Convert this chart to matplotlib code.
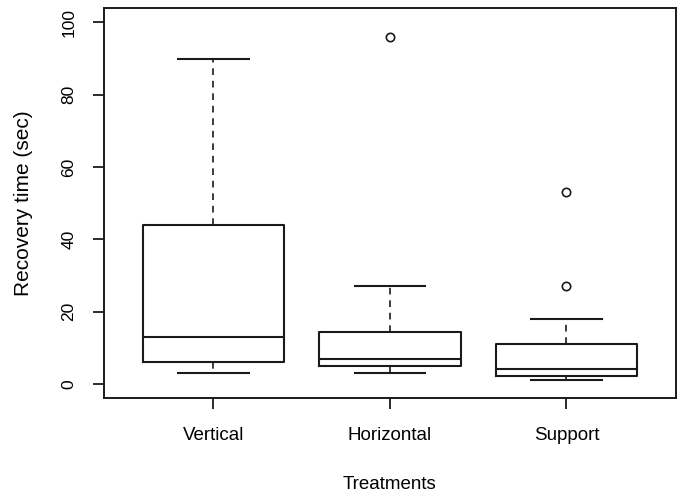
import matplotlib.pyplot as plt

plt.rcParams['font.family'] = ['Liberation Sans', 'DejaVu Sans']

treatments = ['Vertical', 'Horizontal', 'Support']
whisker_low = [3, 3, 1]
q1 = [6, 5, 2.1]
median = [13, 7, 4]
q3 = [44, 14.4, 11]
whisker_high = [90, 27, 18]
outliers = [[], [96], [53, 27]]

stats = []
for i, name in enumerate(treatments):
    stats.append({
        'label': name,
        'whislo': whisker_low[i],
        'q1': q1[i],
        'med': median[i],
        'q3': q3[i],
        'whishi': whisker_high[i],
        'fliers': outliers[i],
    })

fig, ax = plt.subplots(figsize=(6.8, 4.96), dpi=100)
fig.subplots_adjust(left=0.153, right=0.994, top=0.984, bottom=0.197)

ink = '#1a1a1a'
ax.bxp(stats, positions=[1, 2, 3], widths=0.8, showfliers=True,
       boxprops=dict(color=ink, linewidth=1.5),
       medianprops=dict(color=ink, linewidth=1.5),
       whiskerprops=dict(color=ink, linewidth=1.2, linestyle=(0, (4, 3.5))),
       capprops=dict(color=ink, linewidth=1.5),
       flierprops=dict(marker='o', markersize=6, markerfacecolor='none',
                       markeredgecolor=ink, markeredgewidth=1.2),
       capwidths=0.4)

ax.set_xlim(0.38, 3.62)
ax.set_ylim(-4, 104)
ax.set_yticks([0, 20, 40, 60, 80, 100])
ax.set_xticks([1, 2, 3])
ax.set_xticklabels(treatments)

for s in ax.spines.values():
    s.set_color(ink)
    s.set_linewidth(1.4)

ax.tick_params(axis='y', labelrotation=90, length=8, width=1.3, color=ink,
               labelsize=12.5, pad=12)
for lab in ax.get_yticklabels():
    lab.set_va('center')
ax.tick_params(axis='x', length=8, width=1.3, color=ink, labelsize=13.5, pad=13)

ax.set_ylabel('Recovery time (sec)', fontsize=15)
ax.set_xlabel('Treatments', fontsize=13.5)
ax.yaxis.set_label_coords(-0.124, 0.5)
ax.xaxis.set_label_coords(0.5, -0.2)

plt.savefig('out.png', dpi=100)
